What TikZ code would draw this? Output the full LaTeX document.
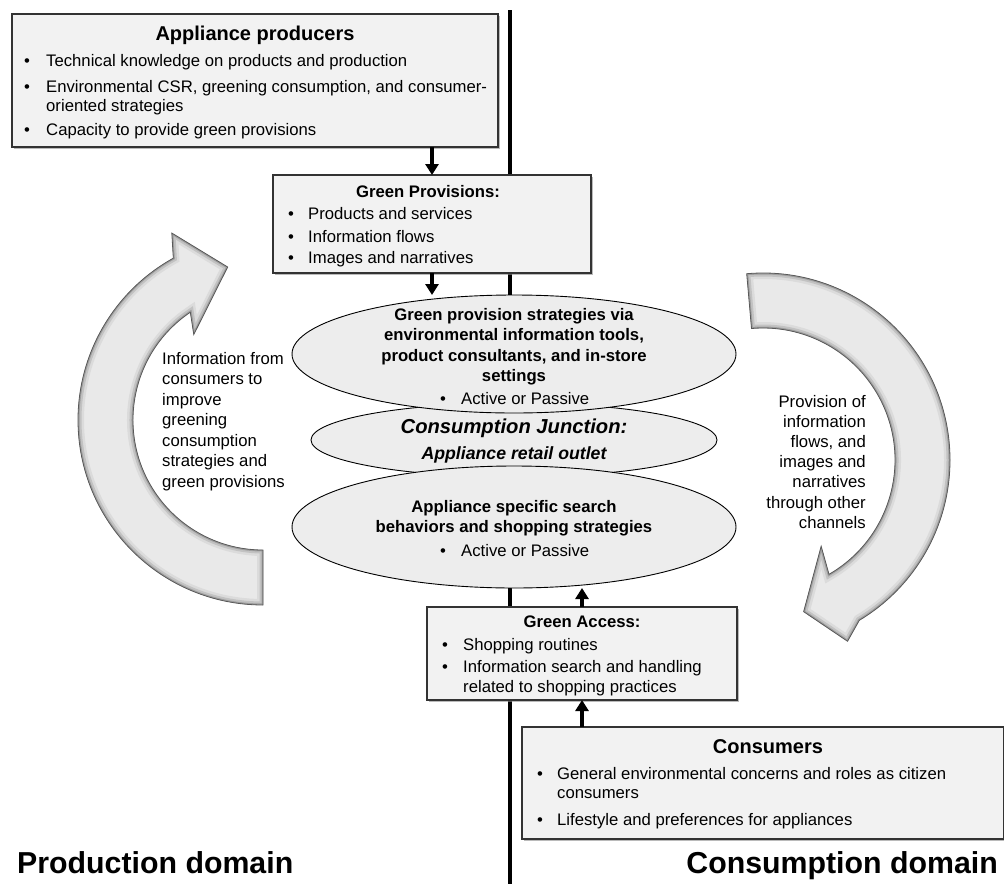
\documentclass[tikz,border=0pt]{standalone}
\usepackage{fontspec}
\setmainfont{Liberation Sans}
\usetikzlibrary{arrows.meta,shadows,shapes.geometric}
\definecolor{boxfill}{HTML}{F2F2F2}
\definecolor{ellfill}{HTML}{EDEDED}
\definecolor{arrfill}{HTML}{E9E9E9}
\begin{document}
\begin{tikzpicture}[x=1pt,y=-1pt,
  box/.style={rectangle,draw=black!80,line width=1.3pt,fill=boxfill,inner sep=0pt,outer sep=0pt,anchor=north west,
    drop shadow={shadow xshift=2pt,shadow yshift=-2pt,fill=black!45,opacity=0.6}},
  ell/.style={ellipse,draw=black,line width=0.9pt,fill=ellfill,inner sep=0pt,outer sep=0pt},
  conn/.style={line width=3.5pt,-{Triangle[width=13pt,length=11pt]}},
  txt/.style={inner sep=0pt,anchor=base west,font=\fontsize{16.7pt}{20pt}\selectfont},
  rtxt/.style={inner sep=0pt,anchor=base east,font=\fontsize{16.7pt}{20pt}\selectfont},
  ctxt/.style={inner sep=0pt,anchor=base,font=\fontsize{16.7pt}{20pt}\selectfont\bfseries},
  ttl/.style={inner sep=0pt,anchor=base,font=\fontsize{20pt}{24pt}\selectfont\bfseries},
  dom/.style={inner sep=0pt,font=\fontsize{30.3pt}{36pt}\selectfont\bfseries},
]
\useasboundingbox (0,0) rectangle (1004,884);

% divider
\coordinate (dtop) at (510,10);
\coordinate (dbot) at (510,884);
\draw[line width=4pt] (dtop) -- (dbot);

% curved arrows
\def\larrow{(270:130) -- (270:185) arc[start angle=270,end angle=119,radius=185] -- (116:208) -- (103:157) -- (129:110) -- (124:130) arc[start angle=124,end angle=270,radius=130] -- cycle}
\def\rarrow{(95:132) -- (95:187) arc[start angle=95,end angle=-59,radius=187] -- (-65:200) -- (-75:157) -- (-56:104) -- (-60:132) arc[start angle=-60,end angle=95,radius=132] -- cycle}
\begin{scope}[shift={(263,420)},yscale=-1]
  \fill[arrfill] \larrow;
  \begin{scope}
    \clip \larrow;
    \draw[black!14,line width=12pt] \larrow;
    \draw[black!24,line width=7pt] \larrow;
    \draw[black!38,line width=3pt] \larrow;
  \end{scope}
  \draw[black!65,line width=0.8pt] \larrow;
\end{scope}
\begin{scope}[shift={(763,460)},yscale=-1]
  \fill[arrfill] \rarrow;
  \begin{scope}
    \clip \rarrow;
    \draw[black!14,line width=12pt] \rarrow;
    \draw[black!24,line width=7pt] \rarrow;
    \draw[black!38,line width=3pt] \rarrow;
  \end{scope}
  \draw[black!65,line width=0.8pt] \rarrow;
\end{scope}

% boxes
\node[box,minimum width=486pt,minimum height=133pt] (prod) at (12,14) {};
\node[box,minimum width=318pt,minimum height=98pt] (gprov) at (273,175) {};
\node[box,minimum width=310pt,minimum height=93pt] (gacc) at (427,607) {};
\node[box,minimum width=482pt,minimum height=112pt] (cons) at (522,727) {};

% ellipses
\node[ell,minimum width=406pt,minimum height=74pt] (e2) at (514,440) {};
\node[ell,minimum width=444pt,minimum height=118pt] (e1) at (514,354) {};
\node[ell,minimum width=444pt,minimum height=122pt] (e3) at (514,527) {};

% connectors
\draw[conn] (prod.south -| gprov.north) -- (gprov.north);
\draw[conn] (gprov.south) -- (gprov.south |- e1.north);
\draw[conn] (gacc.north) -- (gacc.north |- e3.south);
\draw[conn] (cons.north -| gacc.south) -- (gacc.south);

% producers text
\node[ttl] (p0) at (255,40) {Appliance producers};
\node[txt] (pb1) at (24,66) {\textbullet};
\node[txt] (p1) at (46,66) {Technical knowledge on products and production};
\node[txt] (pb2) at (24,92) {\textbullet};
\node[txt] (p2) at (46,92) {Environmental CSR, greening consumption, and consumer-};
\node[txt] (p3) at (46,111) {oriented strategies};
\node[txt] (pb3) at (24,135) {\textbullet};
\node[txt] (p4) at (46,135) {Capacity to provide green provisions};

% green provisions text
\node[ctxt] (g0) at (428,197) {Green Provisions:};
\node[txt] (gb1) at (288,219) {\textbullet};
\node[txt] (g1) at (308,219) {Products and services};
\node[txt] (gb2) at (288,242) {\textbullet};
\node[txt] (g2) at (308,242) {Information flows};
\node[txt] (gb3) at (288,263) {\textbullet};
\node[txt] (g3) at (308,263) {Images and narratives};

% ellipse 1 text
\node[ctxt] (a1) at (514,320) {Green provision strategies via};
\node[ctxt] (a2) at (514,340) {environmental information tools,};
\node[ctxt] (a3) at (514,361) {product consultants, and in-store};
\node[ctxt] (a4) at (514,381) {settings};
\node[txt] (ab) at (440,404) {\textbullet};
\node[txt] (a5) at (461,404) {Active or Passive};

% ellipse 2 text
\node[inner sep=0pt,anchor=base,font=\fontsize{20.2pt}{24pt}\selectfont\bfseries\itshape] (j1) at (514,433) {Consumption Junction:};
\node[inner sep=0pt,anchor=base,font=\fontsize{17.7pt}{21pt}\selectfont\bfseries\itshape] (j2) at (514,459) {Appliance retail outlet};

% ellipse 3 text
\node[ctxt] (s1) at (514,512) {Appliance specific search};
\node[ctxt] (s2) at (514,532) {behaviors and shopping strategies};
\node[txt] (sb) at (440,556) {\textbullet};
\node[txt] (s3) at (461,556) {Active or Passive};

% green access text
\node[ctxt] (c0) at (582,627) {Green Access:};
\node[txt] (cb1) at (442,650) {\textbullet};
\node[txt] (c1) at (463,650) {Shopping routines};
\node[txt] (cb2) at (442,672) {\textbullet};
\node[txt] (c2) at (463,672) {Information search and handling};
\node[txt] (c3) at (463,692) {related to shopping practices};

% consumers text
\node[ttl] (k0) at (768,753) {Consumers};
\node[txt] (kb1) at (537,779) {\textbullet};
\node[txt] (k1) at (557,779) {General environmental concerns and roles as citizen};
\node[txt] (k2) at (557,798) {consumers};
\node[txt] (kb2) at (537,825) {\textbullet};
\node[txt] (k3) at (557,825) {Lifestyle and preferences for appliances};

% arrow labels
\foreach \s [count=\i from 0] in {Information from,consumers to,improve,greening,consumption,strategies and,green provisions}
  \node[txt] (l\i) at (162,364+20.5*\i) {\s};
\foreach \s [count=\i from 0] in {Provision of,information,{flows, and},images and,narratives,through other,channels}
  \node[rtxt] (r\i) at (866,407+20.2*\i) {\s};

% domain labels
\node[dom,anchor=base west] (pd) at (17,873) {Production domain};
\node[dom,anchor=base east] (cd) at (998,873) {Consumption domain};
\end{tikzpicture}
\end{document}
